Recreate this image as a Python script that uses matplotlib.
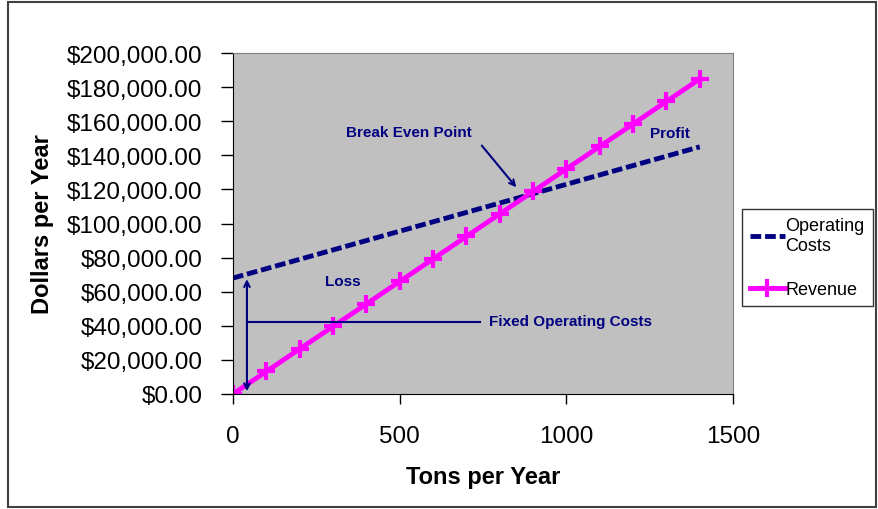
import matplotlib
matplotlib.use('Agg')
from matplotlib import pyplot as plt
from matplotlib.patches import Rectangle
from matplotlib.ticker import FuncFormatter

tons = [0, 100, 200, 300, 400, 500, 600, 700, 800, 900, 1000, 1100, 1200, 1300, 1400]
operating_costs = [68000, 73500, 79000, 84500, 90000, 95500, 101000, 106500, 112000,
                   117500, 123000, 128500, 134000, 139500, 145000]
revenue = [0, 13200, 26400, 39600, 52800, 66000, 79200, 92400, 105600, 118800,
           132000, 145200, 158400, 171600, 184800]

plt.rcParams['font.family'] = ['Liberation Sans', 'DejaVu Sans']
navy = '#000080'

fig = plt.figure(figsize=(8.79, 5.10), dpi=100)
fig.patches.append(Rectangle((0.009, 0.004), 0.988, 0.99, transform=fig.transFigure,
                             fill=False, edgecolor='#404040', linewidth=1.5))
ax = fig.add_axes([0.265, 0.2255, 0.569, 0.6685])
ax.set_facecolor('#C0C0C0')

ax.plot(tons, operating_costs, color=navy, linewidth=3.5, linestyle=(0, (2.2, 0.8)),
        label='Operating\nCosts')
ax.plot(tons, revenue, color='#FF00FF', linewidth=3.5, marker='+', markersize=13,
        markeredgewidth=3, label='Revenue')

ax.set_xlim(0, 1500)
ax.set_ylim(0, 200000)
ax.set_xticks([0, 500, 1000, 1500])
ax.set_yticks(range(0, 200001, 20000))
ax.yaxis.set_major_formatter(FuncFormatter(lambda v, p: f'${v:,.2f}'))
ax.tick_params(axis='both', labelsize=17.5, direction='out', width=1, color='black')
ax.tick_params(axis='y', length=9, pad=13)
ax.tick_params(axis='x', length=7, pad=15)
for s in ['top', 'right']:
    ax.spines[s].set_color('#808080')
for s in ['left', 'bottom']:
    ax.spines[s].set_color('black')

ax.set_xlabel('Tons per Year', fontsize=17, fontweight='bold', labelpad=13)
ax.set_ylabel('Dollars per Year', fontsize=17, fontweight='bold', labelpad=9)

# annotations
ax.annotate('', xy=(855, 120000), xytext=(741, 147000),
            arrowprops=dict(arrowstyle='->', color=navy, lw=1.5))
ax.text(528, 153500, 'Break Even Point', color=navy, fontsize=11, fontweight='bold',
        ha='center', va='center')
ax.text(1311, 153000, 'Profit', color=navy, fontsize=11, fontweight='bold',
        ha='center', va='center')
ax.text(330, 66000, 'Loss', color=navy, fontsize=11, fontweight='bold',
        ha='center', va='center')
ax.annotate('', xy=(42, 69000), xytext=(42, 0),
            arrowprops=dict(arrowstyle='<->', color=navy, lw=1.5))
ax.plot([42, 741], [42000, 42000], color=navy, linewidth=1.5)
ax.text(767, 43000, 'Fixed Operating Costs', color=navy, fontsize=11,
        fontweight='bold', ha='left', va='center')

leg = ax.legend(loc='center left', bbox_to_anchor=(1.018, 0.40), fontsize=13,
                frameon=True, fancybox=False, edgecolor='black', handlelength=1.9,
                handletextpad=0.05, borderpad=0.45, labelspacing=1.5,
                borderaxespad=0)
leg.get_frame().set_linewidth(1.0)

fig.savefig('out.png', dpi=100)
